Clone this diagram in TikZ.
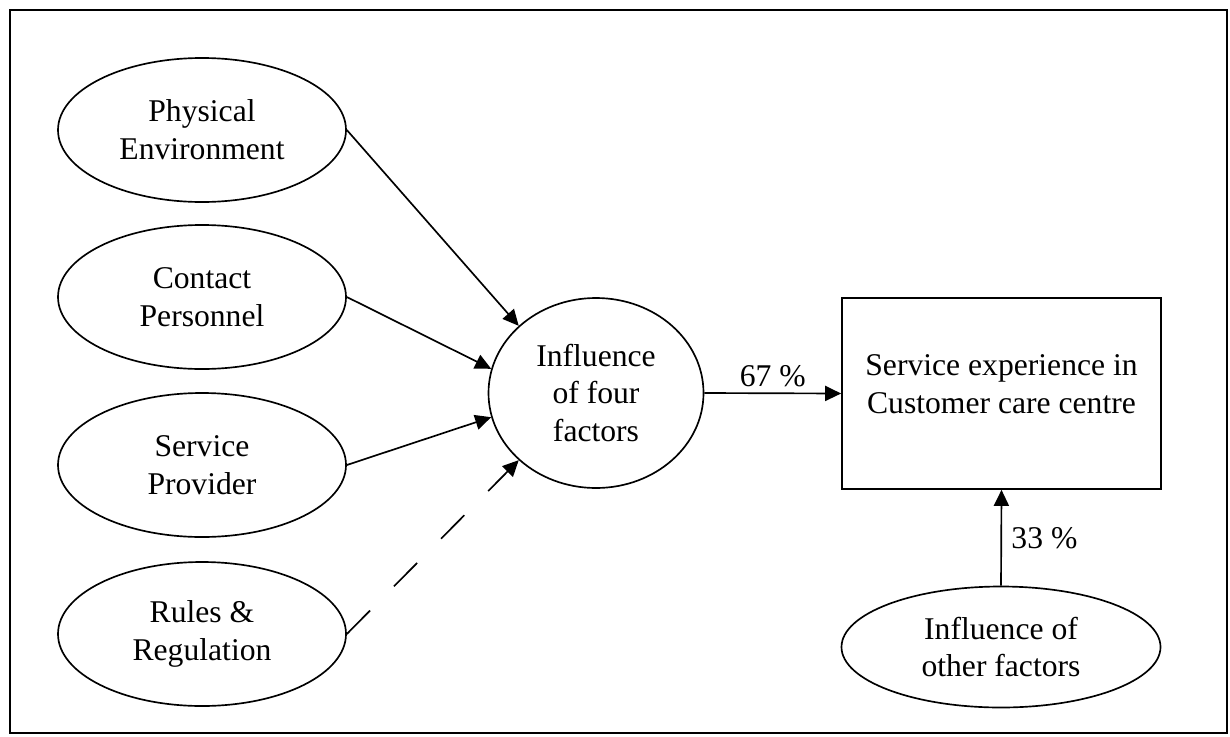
\documentclass[tikz,border=0pt]{standalone}
\usepackage{fontspec}
\setmainfont{Liberation Serif}
\usepackage{tikz}
\usetikzlibrary{positioning, arrows.meta, shapes.geometric}

\tikzset{
  factor/.style={draw, line width=0.95pt, ellipse, align=center, minimum width=5.76cm, minimum height=2.88cm, inner sep=0pt},
  conn/.style={line width=0.95pt, -{Triangle[length=0.32cm,width=0.3cm]}},
  every node/.style={font=\fontsize{18}{21.6}\selectfont}
}

\begin{document}
\begin{tikzpicture}
        \useasboundingbox (0,0) rectangle (24.6,-14.72);
        % draw outer frame
        \draw[line width=1.3pt] (0.2,-0.2) rectangle (24.54,-14.66);
        % the four factors
        \foreach \y/\name/\descr in {-2.6/phys/{Physical\\Environment}, -5.94/cont/{Contact\\Personnel}, -9.3/serv/{Service\\Provider}, -12.68/rule/{Rules \&\\Regulation}}
        \node[factor] (\name) at (4.04,\y) {\descr};
        % middle and right nodes
        \node[factor, minimum width=4.3cm, minimum height=3.8cm] (infl) at (11.92,-7.86) {Influence\\of four\\factors};
        \node[draw, line width=0.95pt, align=center, minimum width=6.38cm, minimum height=3.82cm] (serexp) at (20.03,-7.87) {Service experience in\\Customer care centre\\[-0.38cm]};
        \node[factor, minimum width=6.38cm, minimum height=2.42cm] (other) at (20.02,-12.94) {Influence of\\other factors};
        % arrows into the circle
        \foreach \name/\ang in {phys/139, cont/167, serv/193}
        \draw[conn] (\name.east) -- (infl.\ang);
        \draw[conn, dash pattern=on 0.66cm off 0.68cm] (rule.east) -- (infl.221);
        % arrows into the box
        \draw[conn] (infl.east) -- node[above] {67 \%} (serexp.west);
        \draw[conn] (other.north) -- node[right=2pt] {33 \%} (serexp.south);
    \end{tikzpicture}
\end{document}
